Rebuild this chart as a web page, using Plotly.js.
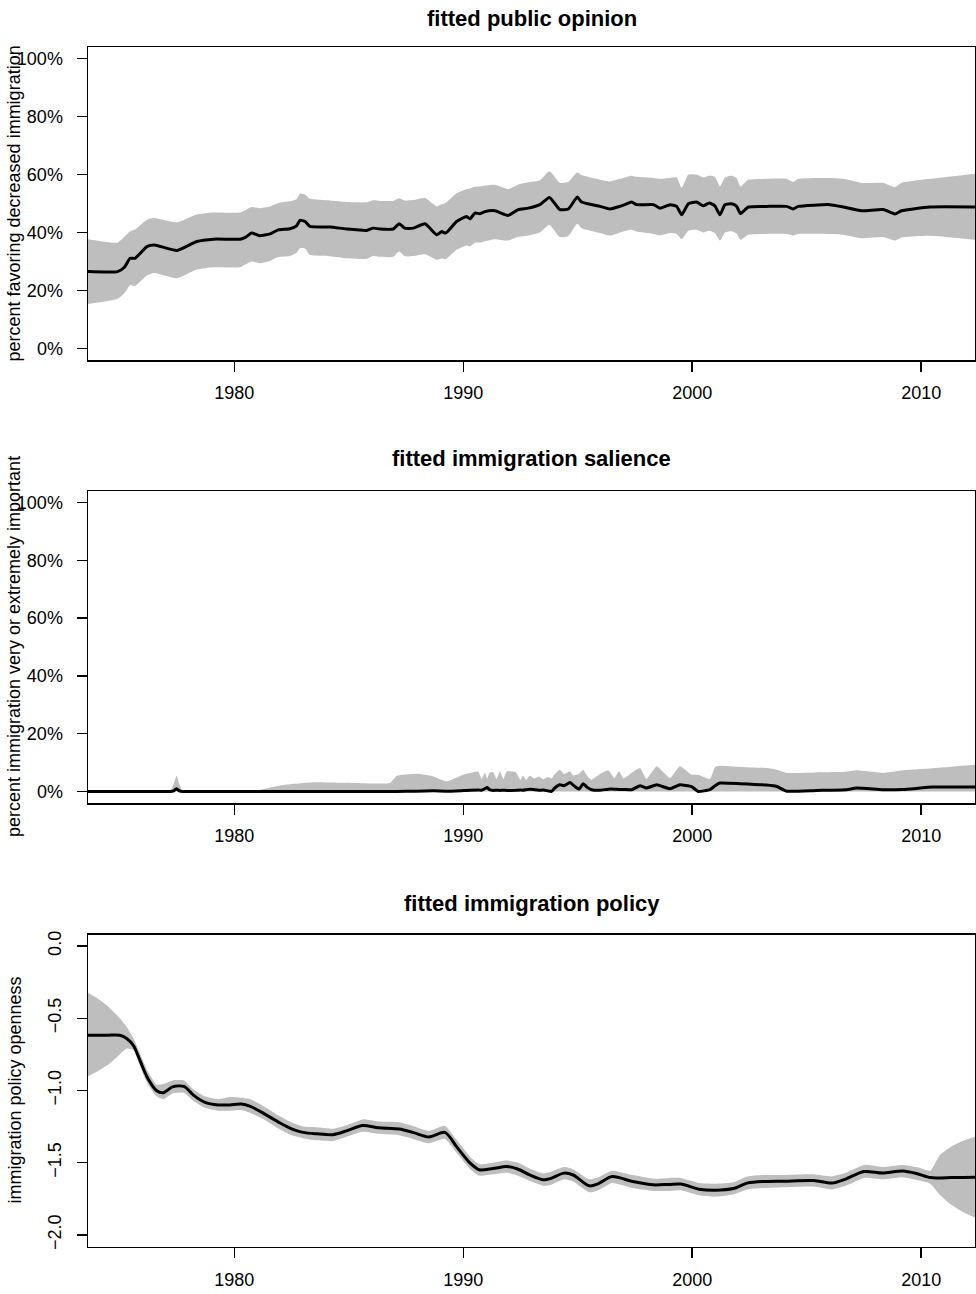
<!DOCTYPE html>
<html>
<head>
<meta charset="utf-8">
<script src="https://cdn.plot.ly/plotly-3.0.1.min.js"></script>
<style>html,body{margin:0;padding:0;background:#fff;}#chart{width:976px;height:1294px;}</style>
</head>
<body>
<div id="chart"></div>
<script>
// ---------- Panel 1: fitted public opinion (percent favoring decreased immigration) ----------
const opinionYears = [1973.6,1974.9,1975.2,1975.45,1975.66,1976.2,1976.5,1977.5,1978.36,1979.1,1980.25,1980.5,1980.76,1981.1,1981.56,1981.92,1982.43,1982.72,1982.87,1983.09,1983.3,1984.18,1984.9,1985.78,1986.07,1986.36,1986.94,1987.2,1987.45,1987.82,1988.33,1988.84,1989.06,1989.23,1989.71,1990.15,1990.29,1990.51,1990.73,1990.95,1991.38,1991.96,1992.4,1992.84,1993.35,1993.76,1994.22,1994.59,1994.98,1995.17,1995.97,1996.41,1996.84,1997.06,1997.35,1997.57,1998.3,1998.59,1999.03,1999.32,1999.54,1999.83,2000.19,2000.48,2000.74,2000.99,2001.21,2001.43,2001.72,2001.94,2002.11,2002.45,2003.25,2004.12,2004.41,2004.63,2006.01,2006.59,2007.4,2008.34,2008.85,2009.14,2010.38,2012.35];
const opinionFit = [26.5,26.5,28.0,31.1,31.1,35.2,35.7,33.8,36.9,37.7,37.7,38.4,39.8,38.9,39.5,40.9,41.3,42.3,44.2,43.8,42.1,41.9,41.2,40.7,41.5,41.2,41.2,43.0,41.5,41.5,43.0,39.2,40.3,39.8,43.8,45.5,44.7,46.7,46.5,47.2,47.5,45.9,47.9,48.4,49.6,52.1,47.9,48.1,52.2,50.5,49.0,48.1,49.0,49.6,50.5,49.6,49.6,48.4,49.6,49.0,46.1,49.9,50.5,49.2,50.2,49.2,46.1,49.6,49.9,49.0,46.5,48.8,49.0,49.0,48.1,49.0,49.6,48.8,47.5,47.9,46.4,47.5,48.8,48.8];
const opinionUpper = [37.7,36.5,38.5,40.4,41.0,44.5,45.0,43.5,46.2,46.9,46.9,47.8,48.8,48.4,49.0,50.2,50.8,51.5,53.4,53.0,51.6,51.0,50.5,50.4,51.1,50.9,50.9,51.8,51.0,51.2,51.9,49.0,49.8,50.2,53.5,55.0,55.2,55.8,55.9,56.2,56.5,55.0,56.5,57.3,58.0,61.1,57.1,57.5,60.8,59.8,58.2,57.6,58.5,59.0,59.6,59.2,58.8,58.5,58.8,59.0,55.4,60.0,60.0,59.0,59.6,59.2,55.9,59.0,59.6,58.8,55.9,58.2,58.5,58.5,57.4,58.5,58.8,58.5,57.1,57.1,55.7,57.1,58.5,60.3];
const opinionLower = [15.3,17.1,19.0,21.9,21.5,25.2,26.0,24.2,27.2,28.0,28.0,29.0,30.0,29.4,30.2,31.5,31.9,33.0,34.6,34.5,32.3,31.8,31.1,30.9,32.0,31.6,31.6,33.4,31.8,31.9,32.5,30.6,31.0,30.8,34.0,35.5,35.2,36.5,36.5,37.0,37.7,37.2,38.5,39.0,40.0,42.7,38.4,38.8,43.0,41.5,39.8,38.9,40.0,40.5,40.9,40.3,39.5,39.0,39.8,39.5,37.7,40.6,40.9,40.0,40.6,39.8,37.2,40.0,40.4,39.6,37.5,39.2,39.5,39.5,39.0,39.5,39.5,39.2,38.0,38.4,37.2,38.3,38.9,37.5];

// ---------- Panel 2: fitted immigration salience (percent very or extremely important) ----------
const salienceYears = [1973.6,1977.2,1977.35,1977.48,1977.6,1977.75,1980.8,1981.5,1982.2,1983.45,1984.9,1986.8,1987.1,1987.97,1988.7,1989.27,1990.0,1990.65,1990.8,1990.95,1991.04,1991.15,1991.3,1991.45,1991.6,1991.75,1991.9,1992.3,1992.5,1992.6,1992.75,1992.9,1993.1,1993.3,1993.5,1993.7,1993.86,1994.0,1994.22,1994.4,1994.66,1994.8,1995.05,1995.24,1995.4,1995.6,1995.97,1996.33,1996.6,1996.8,1997.0,1997.35,1997.72,1998.0,1998.45,1999.03,1999.46,1999.97,2000.26,2000.77,2001.0,2001.21,2002.08,2003.25,2003.69,2004.12,2005.43,2006.74,2007.18,2008.34,2009.2,2010.52,2012.35];
const salienceFit = [0,0,0.2,0.9,0.2,0,0,0,0,0,0,0,0,0.1,0.2,0.1,0.3,0.5,0.4,1.0,1.4,0.6,0.35,0.4,0.35,0.4,0.35,0.4,0.5,0.4,0.6,0.8,0.6,0.4,0.5,0.2,0,1.2,2.3,2.0,3.1,2.2,0.8,2.7,1.5,0.6,0.4,0.8,0.8,0.7,0.7,0.6,2.0,1.2,2.3,0.9,2.3,1.7,0,0.6,2.0,2.9,2.7,2.2,1.7,0.1,0.35,0.6,1.2,0.6,0.7,1.5,1.5];
const salienceUpper = [0,0,2.5,5.4,2.5,0,0,1.2,2.3,3.2,3.0,2.9,5.4,6.1,5.2,3.5,5.8,6.9,4.3,6.5,4.5,6.5,6.7,4.3,6.9,4.3,6.9,6.6,4.0,5.5,4.0,5.4,4.5,5.2,4.2,5.0,4.5,6.0,7.5,6.0,7.0,5.5,6.0,7.5,5.5,4.0,6.0,7.3,4.6,7.0,4.5,6.5,8.1,4.3,8.7,4.6,8.7,5.8,5.8,4.3,8.5,8.9,8.5,8.1,7.5,6.4,6.6,6.8,7.3,6.4,7.3,8.0,9.2];

// ---------- Panel 3: fitted immigration policy (openness) ----------
const policyYears = [1973.6,1974.0,1974.5,1975.0,1975.3,1975.6,1975.9,1976.2,1976.6,1976.9,1977.3,1977.8,1978.2,1978.7,1979.3,1979.8,1980.3,1980.7,1981.3,1982.0,1982.5,1983.0,1983.6,1984.3,1984.9,1985.6,1986.3,1987.2,1987.8,1988.5,1989.2,1989.7,1990.3,1990.7,1991.3,1991.9,1992.4,1992.9,1993.5,1993.8,1994.4,1994.8,1995.5,1995.9,1996.5,1997.4,1998.3,1999.0,1999.5,2000.3,2001.0,2001.8,2002.4,2003.2,2004.0,2005.3,2006.1,2006.7,2007.5,2008.3,2009.2,2009.8,2010.4,2010.8,2011.3,2011.8,2012.35];
const policyFit = [-0.617,-0.617,-0.617,-0.618,-0.64,-0.69,-0.80,-0.91,-1.00,-1.015,-0.975,-0.972,-1.03,-1.08,-1.10,-1.10,-1.094,-1.11,-1.16,-1.225,-1.265,-1.29,-1.30,-1.306,-1.28,-1.242,-1.258,-1.267,-1.29,-1.322,-1.29,-1.387,-1.503,-1.549,-1.54,-1.526,-1.545,-1.584,-1.618,-1.61,-1.572,-1.585,-1.66,-1.645,-1.596,-1.63,-1.653,-1.65,-1.648,-1.683,-1.69,-1.679,-1.641,-1.63,-1.628,-1.623,-1.641,-1.613,-1.561,-1.572,-1.557,-1.575,-1.603,-1.605,-1.603,-1.602,-1.600];
const policyUpper = [-0.323,-0.36,-0.42,-0.50,-0.56,-0.64,-0.75,-0.86,-0.96,-0.955,-0.93,-0.93,-0.99,-1.04,-1.06,-1.045,-1.05,-1.06,-1.11,-1.18,-1.22,-1.25,-1.255,-1.265,-1.24,-1.20,-1.215,-1.22,-1.245,-1.28,-1.245,-1.34,-1.46,-1.51,-1.50,-1.485,-1.50,-1.54,-1.575,-1.565,-1.53,-1.545,-1.615,-1.60,-1.555,-1.585,-1.61,-1.605,-1.605,-1.64,-1.645,-1.635,-1.595,-1.585,-1.585,-1.58,-1.595,-1.57,-1.515,-1.53,-1.515,-1.53,-1.555,-1.45,-1.39,-1.35,-1.32];
const policyLower = [-0.902,-0.87,-0.82,-0.75,-0.71,-0.72,-0.84,-0.95,-1.04,-1.06,-1.02,-1.015,-1.07,-1.12,-1.14,-1.14,-1.135,-1.155,-1.20,-1.27,-1.31,-1.33,-1.345,-1.35,-1.32,-1.285,-1.30,-1.31,-1.335,-1.365,-1.335,-1.43,-1.545,-1.59,-1.58,-1.57,-1.59,-1.625,-1.66,-1.655,-1.615,-1.63,-1.705,-1.69,-1.64,-1.675,-1.695,-1.695,-1.69,-1.725,-1.735,-1.72,-1.685,-1.675,-1.67,-1.665,-1.685,-1.66,-1.605,-1.615,-1.60,-1.62,-1.645,-1.72,-1.79,-1.84,-1.88];

// ---------- tick labels & titles ----------
const yearTicks = [1980, 1990, 2000, 2010];
const pctTicks = [0, 20, 40, 60, 80, 100];
const pctTickText = ["0%", "20%", "40%", "60%", "80%", "100%"];
const policyTicks = [-2, -1.5, -1, -0.5, 0];
const policyTickText = ["\u22122.0", "\u22121.5", "\u22121.0", "\u22120.5", "0.0"];
const panelTitles = ["fitted public opinion", "fitted immigration salience", "fitted immigration policy"];
const yTitles = ["percent favoring decreased immigration", "percent immigration very or extremely important", "immigration policy openness"];

const FONT = "Liberation Sans, Arial, Helvetica, sans-serif";
const BAND = "#BEBEBE";
const H = 1294;

function band(x, lo, hi, xa, ya, shape) {
  const ln = {width: 0, color: BAND, shape: shape || "linear", smoothing: 0.5};
  return [
    {x: x, y: lo, xaxis: xa, yaxis: ya, type: "scatter", mode: "lines", line: ln, hoverinfo: "skip"},
    {x: x, y: hi, xaxis: xa, yaxis: ya, type: "scatter", mode: "lines", line: ln, fill: "tonexty", fillcolor: BAND, hoverinfo: "skip"}
  ];
}
function fitLine(x, y, xa, ya, shape, sm) {
  return {x: x, y: y, xaxis: xa, yaxis: ya, type: "scatter", mode: "lines", line: {color: "#000", width: 3, shape: shape || "linear", smoothing: sm || 0.8}};
}

const traces = [].concat(
  band(opinionYears, opinionLower, opinionUpper, "x", "y", "spline"),
  [fitLine(opinionYears, opinionFit, "x", "y", "spline", 0.5)],
  [{x: salienceYears, y: salienceUpper, xaxis: "x2", yaxis: "y2", type: "scatter", mode: "lines", line: {width: 0, color: BAND, shape: "spline", smoothing: 0.4}, fill: "tozeroy", fillcolor: BAND, hoverinfo: "skip"}],
  [fitLine(salienceYears, salienceFit, "x2", "y2", "spline", 0.4)],
  band(policyYears, policyLower, policyUpper, "x3", "y3", "spline"),
  [fitLine(policyYears, policyFit, "x3", "y3", "spline", 0.8)]
);

const xRange = [1973.61, 2012.35];
function xAxis(anchor) {
  return {
    anchor: anchor, domain: [0, 1], range: xRange, tickmode: "array", tickvals: yearTicks,
    showline: true, mirror: true, linecolor: "#000", linewidth: 1.5,
    ticks: "outside", ticklen: 10, tickwidth: 1.5, tickcolor: "#000",
    showgrid: false, zeroline: false, ticklabelstandoff: 6,
    tickfont: {family: FONT, size: 18, color: "#000"}
  };
}
function yAxis(anchor, top, bottom, range, vals, text, standoff) {
  return {
    anchor: anchor, domain: [1 - bottom / H, 1 - top / H], range: range, tickmode: "array", tickvals: vals, ticktext: text,
    showline: true, mirror: true, linecolor: "#000", linewidth: 1.5,
    ticks: "outside", ticklen: 10, tickwidth: 1.5, tickcolor: "#000",
    showgrid: false, zeroline: false, ticklabelstandoff: standoff,
    tickfont: {family: FONT, size: 18, color: "#000"}
  };
}

const panelTop = [47, 491, 934.5];
const panelBottom = [360, 803, 1246.5];
const titleY = [18, 459, 904];

const annotations = [];
for (let i = 0; i < 3; i++) {
  annotations.push({
    text: panelTitles[i], xref: "paper", yref: "paper", x: 0.5, y: 1 - titleY[i] / H,
    xanchor: "center", yanchor: "middle", showarrow: false,
    font: {family: FONT, size: 22, color: "#000", weight: "bold"}
  });
  annotations.push({
    text: yTitles[i], xref: "paper", yref: "paper", x: (14 - 88) / 887, y: 1 - (panelTop[i] + panelBottom[i]) / 2 / H,
    xanchor: "center", yanchor: "middle", showarrow: false, textangle: -90,
    font: {family: FONT, size: 18, color: "#000"}
  });
}

const y1 = yAxis("x", panelTop[0], panelBottom[0], [-4, 104], pctTicks, pctTickText, 10);
const y2 = yAxis("x2", panelTop[1], panelBottom[1], [-4, 104], pctTicks, pctTickText, 10);
const y3 = yAxis("x3", panelTop[2], panelBottom[2], [-2.08, 0.08], policyTicks, policyTickText, 8);
y3.tickangle = -90;

const layout = {
  width: 976, height: 1294,
  margin: {l: 88, r: 1, t: 0, b: 0, pad: 0},
  paper_bgcolor: "#fff", plot_bgcolor: "#fff",
  showlegend: false,
  font: {family: FONT, color: "#000"},
  xaxis: xAxis("y"), xaxis2: xAxis("y2"), xaxis3: xAxis("y3"),
  yaxis: y1, yaxis2: y2, yaxis3: y3,
  annotations: annotations
};

Plotly.newPlot("chart", traces, layout, {staticPlot: true, displayModeBar: false});
</script>
</body>
</html>
